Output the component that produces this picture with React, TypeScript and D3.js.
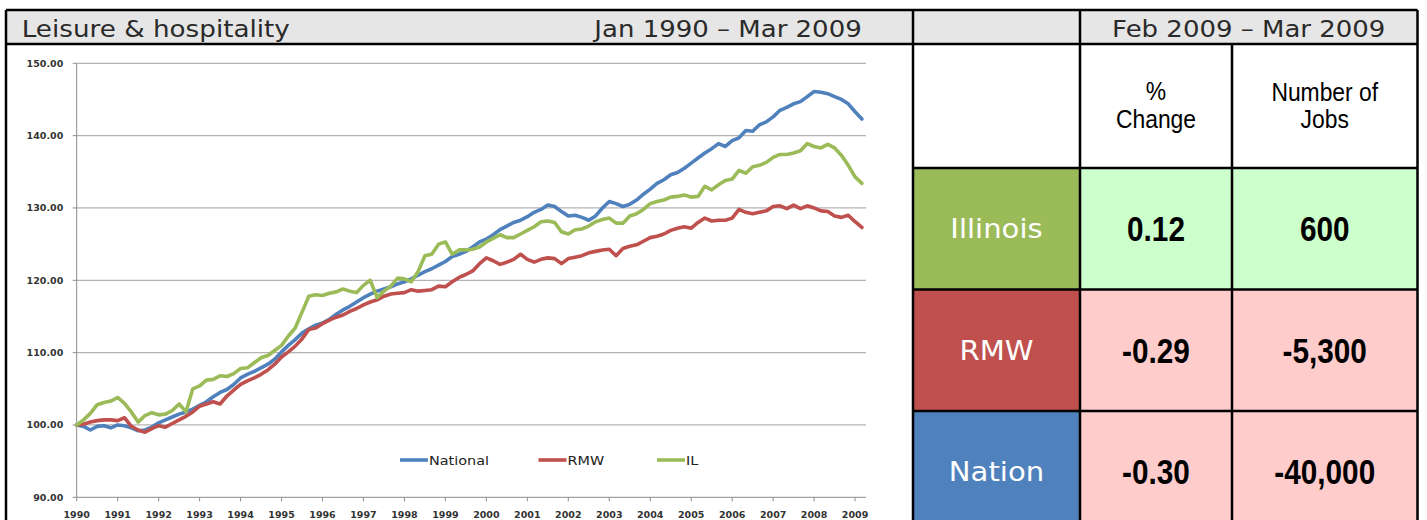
import React from 'react';
import * as d3 from 'd3';

// ---------- DATA ----------
const yearLabels = ['1990','1991','1992','1993','1994','1995','1996','1997','1998','1999','2000','2001','2002','2003','2004','2005','2006','2007','2008','2009'];
const yTickValues = [90, 100, 110, 120, 130, 140, 150];
const monthsPerPoint = 2; // one reading every two months, Jan 1990 .. Mar 2009

const nationalValues = [
  100.0, 99.8, 99.3, 99.8, 99.9, 99.6, 100.0, 99.9, 99.6, 99.2,
  99.3, 99.7, 100.3, 100.7, 101.1, 101.5, 101.8, 102.2, 102.7, 103.2,
  103.9, 104.5, 104.9, 105.6, 106.5, 107.0, 107.4, 107.9, 108.4, 109.1,
  110.1, 111.0, 111.8, 112.7, 113.3, 113.8, 114.1, 114.6, 115.3, 115.9,
  116.4, 117.0, 117.6, 118.1, 118.5, 118.8, 119.1, 119.5, 119.8, 120.2,
  120.7, 121.2, 121.6, 122.1, 122.6, 123.3, 123.6, 124.0, 124.6, 125.3,
  125.7, 126.3, 127.0, 127.5, 128.0, 128.3, 128.8, 129.4, 129.8, 130.4,
  130.2, 129.5, 128.9, 129.0, 128.7, 128.3, 128.9, 130.0, 130.9, 130.6,
  130.2, 130.5, 131.1, 131.9, 132.6, 133.4, 133.9, 134.6, 134.9, 135.5,
  136.2, 136.9, 137.6, 138.2, 138.9, 138.5, 139.3, 139.7, 140.7, 140.6,
  141.5, 141.9, 142.6, 143.5, 143.9, 144.4, 144.7, 145.4, 146.1, 146.0,
  145.8, 145.4, 145.0, 144.4, 143.3, 142.3,
];

const rmwValues = [
  100.0, 100.1, 100.4, 100.6, 100.7, 100.7, 100.6, 101.0, 99.8, 99.3,
  99.0, 99.5, 99.9, 99.7, 100.2, 100.7, 101.2, 101.8, 102.6, 102.9,
  103.2, 102.9, 104.0, 104.8, 105.6, 106.1, 106.5, 107.0, 107.6, 108.4,
  109.4, 110.1, 110.9, 111.9, 113.2, 113.4, 114.0, 114.5, 114.9, 115.2,
  115.7, 116.1, 116.6, 117.0, 117.3, 117.8, 118.1, 118.2, 118.3, 118.7,
  118.5, 118.6, 118.7, 119.2, 119.1, 119.8, 120.4, 120.8, 121.3, 122.3,
  123.1, 122.7, 122.2, 122.5, 122.9, 123.6, 122.9, 122.5, 122.9, 123.1,
  123.0, 122.3, 123.0, 123.2, 123.4, 123.8, 124.0, 124.2, 124.3, 123.4,
  124.4, 124.7, 124.9, 125.4, 125.9, 126.1, 126.4, 126.9, 127.2, 127.4,
  127.2, 128.0, 128.6, 128.2, 128.3, 128.3, 128.6, 129.8, 129.4, 129.2,
  129.4, 129.6, 130.2, 130.3, 129.9, 130.4, 129.9, 130.3, 130.0, 129.6,
  129.5, 128.9, 128.7, 129.0, 128.1, 127.3,
];

const ilValues = [
  100.0, 100.7, 101.6, 102.8, 103.1, 103.3, 103.8, 103.0, 101.8, 100.4,
  101.3, 101.7, 101.4, 101.5, 102.0, 102.9, 101.8, 105.0, 105.4, 106.2,
  106.3, 106.8, 106.7, 107.1, 107.8, 107.9, 108.6, 109.3, 109.6, 110.3,
  111.0, 112.3, 113.4, 115.6, 117.8, 118.0, 117.9, 118.2, 118.4, 118.8,
  118.5, 118.3, 119.3, 120.0, 117.6, 118.5, 119.2, 120.3, 120.2, 119.8,
  121.2, 123.4, 123.6, 125.0, 125.3, 123.6, 124.2, 124.2, 124.3, 124.6,
  125.3, 125.8, 126.3, 125.9, 125.9, 126.4, 126.9, 127.4, 128.1, 128.2,
  128.0, 126.7, 126.4, 127.0, 127.1, 127.5, 128.1, 128.4, 128.6, 127.9,
  127.9, 128.9, 129.2, 129.8, 130.6, 130.9, 131.1, 131.5, 131.6, 131.8,
  131.5, 131.6, 133.0, 132.5, 133.2, 133.8, 134.0, 135.2, 134.8, 135.7,
  135.9, 136.3, 137.0, 137.4, 137.4, 137.6, 137.9, 138.9, 138.5, 138.3,
  138.8, 138.3, 137.3, 135.9, 134.3, 133.4,
];

const seriesNames = ['National', 'RMW', 'IL'];
const seriesColors = ['#4F81BD', '#C0504D', '#9BBB59'];
const seriesData = [nationalValues, rmwValues, ilValues];

const tableTitle = 'Feb 2009 \u2013 Mar 2009';
const chartTitle = 'Leisure & hospitality';
const chartPeriod = 'Jan 1990 \u2013 Mar 2009';
const regionNames = ['Illinois', 'RMW', 'Nation'];
const regionColors = ['#9BBB59', '#C0504D', '#4F81BD'];
const pctChange = ['0.12', '-0.29', '-0.30'];
const jobsChange = ['600', '-5,300', '-40,000'];
const valueFills = ['#CCFFCC', '#FFCCCC', '#FFCCCC'];

// ---------- LAYOUT ----------
const W = 1427, H = 520;
const plotLeft = 76.7, plotRight = 866, plotTop = 63.3, plotBottom = 497.3;
const frameL = 6, frameR = 1417.5, frameT = 10, headerB = 44;
const colX = [913, 1080, 1232, 1417.5];
const rowY = [44, 168, 289.5, 411, 532];
const legendX = [400, 538.5, 657];
const legendY = 460;

const sansW = '"DejaVu Sans", Verdana, sans-serif';
const narrow = '"Liberation Sans", Arial, sans-serif';

function ST({ x, y, sx = 1, anchor = 'start', size, family, weight = 'normal', fill = '#222', children }: any) {
  return (
    <text transform={`translate(${x},${y}) scale(${sx},1)`} textAnchor={anchor}
      fontSize={size} fontFamily={family} fontWeight={weight} fill={fill}>{children}</text>
  );
}

export default function App() {
  const x = d3.scaleLinear().domain([0, 231.2]).range([plotLeft, plotRight]);
  const y = d3.scaleLinear().domain([90, 150]).range([plotBottom, plotTop]);
  const line = d3.line<number>()
    .x((_, i) => x(i * monthsPerPoint))
    .y((v) => y(v));

  const lineW = 2.5;
  return (
    <div style={{ position: 'absolute', left: 0, top: 0 }}>
      <svg width={W} height={H} style={{ display: 'block' }}>
        <rect x={0} y={0} width={W} height={H} fill="#fff" />
        {/* header fill */}
        <rect x={frameL} y={frameT} width={frameR - frameL} height={headerB - frameT} fill="#E6E6E6" />

        {/* chart gridlines */}
        {yTickValues.slice(1).map((v) => (
          <line key={v} x1={plotLeft} x2={plotRight} y1={y(v)} y2={y(v)} stroke="#B3B3B3" strokeWidth={1.2} />
        ))}
        {/* axes */}
        <line x1={plotLeft} x2={plotLeft} y1={plotTop} y2={plotBottom} stroke="#8C8C8C" strokeWidth={1} />
        <line x1={plotLeft} x2={plotRight} y1={plotBottom} y2={plotBottom} stroke="#8C8C8C" strokeWidth={1} />
        {yTickValues.map((v) => (
          <g key={'yt' + v}>
            <line x1={plotLeft - 4} x2={plotLeft} y1={y(v)} y2={y(v)} stroke="#8C8C8C" />
            <ST x={plotLeft - 13.4} y={y(v) + 3.2} sx={1.12} anchor="end" size={8.5} family={sansW} weight="bold" fill="#333">
              {d3.format('.2f')(v)}
            </ST>
          </g>
        ))}
        {yearLabels.map((lab, i) => {
          const xx = x(i * 12);
          return (
            <g key={lab}>
              <line x1={xx} x2={xx} y1={plotBottom} y2={plotBottom + 4} stroke="#8C8C8C" />
              <ST x={xx} y={518} sx={1.12} anchor="middle" size={8.5} family={sansW} weight="bold" fill="#333">{lab}</ST>
            </g>
          );
        })}

        {/* series */}
        {seriesData.map((vals, si) => (
          <path key={seriesNames[si]} d={line(vals) || ''} fill="none" stroke={seriesColors[si]}
            strokeWidth={3.6} strokeLinejoin="round" strokeLinecap="round" />
        ))}

        {/* legend */}
        {seriesNames.map((n, si) => (
          <g key={'lg' + n}>
            <line x1={legendX[si]} x2={legendX[si] + 28} y1={legendY} y2={legendY} stroke={seriesColors[si]} strokeWidth={3.6} />
            <ST x={legendX[si] + 29} y={legendY + 4.5} sx={1.2} size={12} family={sansW} fill="#222">{n}</ST>
          </g>
        ))}

        {/* header texts */}
        <ST x={21.7} y={36.5} sx={1.145} size={22.9} family={sansW} fill="#2a2a2a">{chartTitle}</ST>
        <ST x={861.7} y={36.5} sx={1.135} anchor="end" size={22.9} family={sansW} fill="#2a2a2a">{chartPeriod}</ST>
        <ST x={(colX[1] + colX[3]) / 2} y={36.5} sx={1.135} anchor="middle" size={22.9} family={sansW} fill="#2a2a2a">{tableTitle}</ST>

        {/* table body */}
        <ST x={(colX[1] + colX[2]) / 2} y={100} sx={0.88} anchor="middle" size={26} family={narrow} fill="#000">%</ST>
        <ST x={(colX[1] + colX[2]) / 2} y={128.3} sx={0.88} anchor="middle" size={26} family={narrow} fill="#000">Change</ST>
        <ST x={(colX[2] + colX[3]) / 2} y={101} sx={0.88} anchor="middle" size={26} family={narrow} fill="#000">Number of</ST>
        <ST x={(colX[2] + colX[3]) / 2} y={128.3} sx={0.88} anchor="middle" size={26} family={narrow} fill="#000">Jobs</ST>
        {regionNames.map((r, i) => {
          const top = rowY[i + 1], bot = rowY[i + 2];
          const cy = (top + bot) / 2;
          return (
            <g key={r}>
              <rect x={colX[0]} y={top} width={colX[1] - colX[0]} height={bot - top} fill={regionColors[i]} />
              <rect x={colX[1]} y={top} width={colX[3] - colX[1]} height={bot - top} fill={valueFills[i]} />
              <ST x={(colX[0] + colX[1]) / 2} y={cy + 9.5} sx={1.12} anchor="middle" size={26} family={sansW} fill="#fff">{r}</ST>
              <ST x={(colX[1] + colX[2]) / 2} y={cy + 12.5} sx={0.85} anchor="middle" size={35} family={narrow} weight="bold" fill="#000">{pctChange[i]}</ST>
              <ST x={(colX[2] + colX[3]) / 2} y={cy + 12.5} sx={0.85} anchor="middle" size={35} family={narrow} weight="bold" fill="#000">{jobsChange[i]}</ST>
            </g>
          );
        })}

        {/* frame lines */}
        <g stroke="#000" strokeWidth={lineW}>
          <line x1={frameL} x2={frameR} y1={frameT} y2={frameT} />
          <line x1={frameL} x2={frameR} y1={headerB} y2={headerB} />
          <line x1={frameL} x2={frameL} y1={frameT} y2={H} />
          <line x1={frameR} x2={frameR} y1={frameT} y2={H} />
          <line x1={colX[0]} x2={colX[0]} y1={frameT} y2={H} />
          <line x1={colX[1]} x2={colX[1]} y1={frameT} y2={H} />
          <line x1={colX[2]} x2={colX[2]} y1={headerB} y2={H} />
          {rowY.slice(1, 4).map((ry) => (
            <line key={ry} x1={colX[0]} x2={frameR} y1={ry} y2={ry} />
          ))}
        </g>
      </svg>
    </div>
  );
}
